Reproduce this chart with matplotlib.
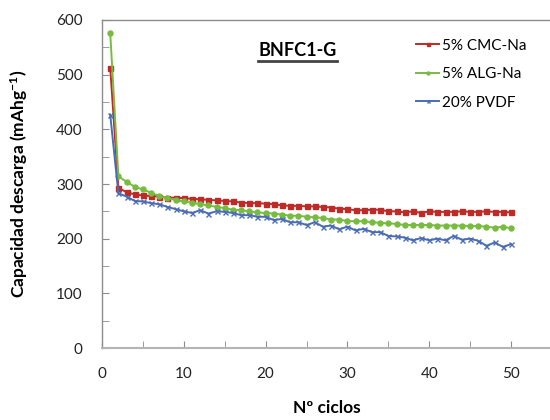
import numpy as np
import matplotlib
matplotlib.use('Agg')
import matplotlib.pyplot as plt
from matplotlib.lines import Line2D

plt.rcParams['font.family'] = ['Lato', 'DejaVu Sans']
plt.rcParams['mathtext.fontset'] = 'custom'
plt.rcParams['mathtext.rm'] = 'Lato:bold'
plt.rcParams['mathtext.default'] = 'rm'

# discharge capacity (mAh/g) per cycle for each binder
ciclos = list(range(1, 51))
cmc_na = [513, 293, 285, 281, 279, 278, 277, 275, 275, 274,
          273, 272, 271, 270, 269, 268, 266, 265, 265, 264,
          263, 261, 260, 260, 259, 259, 258, 257, 255, 254,
          252, 252, 253, 253, 250, 250, 248, 250, 247, 250,
          249, 249, 249, 250, 249, 249, 250, 249, 249, 248]
alg_na = [577, 314, 304, 295, 290, 284, 278, 274, 271, 268,
          266, 263, 261, 258, 256, 253, 252, 250, 248, 247,
          246, 244, 242, 242, 240, 239, 238, 235, 235, 232,
          232, 232, 230, 229, 228, 227, 225, 225, 225, 225,
          224, 224, 224, 224, 223, 223, 222, 220, 222, 219]
pvdf = [427, 283, 277, 269, 268, 265, 263, 258, 254, 250,
        247, 252, 246, 250, 249, 247, 243, 243, 240, 240,
        234, 236, 230, 230, 225, 230, 222, 224, 217, 222,
        215, 218, 212, 212, 205, 204, 202, 197, 201, 197,
        200, 197, 205, 198, 200, 196, 187, 193, 185, 190]

series = [
    ('5% CMC-Na', cmc_na, '#BE2B26', 's', 3.6),
    ('5% ALG-Na', alg_na, '#77BC3F', 'o', 3.6),
    ('20% PVDF', pvdf, '#4A6CB5', 'x', 3.6),
]

fig = plt.figure(figsize=(5.5, 4.2), dpi=100)
ax = fig.add_axes([0.1855, 0.1714, 0.818, 0.781])

for label, vals, color, mk, ms in series:
    ax.plot(ciclos, vals, color=color, lw=1.4, marker=mk, ms=ms,
            mew=1.0, label=label)

ax.set_xlim(0, 55)
ax.set_ylim(0, 600)
ax.set_xticks(np.arange(0, 51, 10))
ax.set_xticks(np.arange(0, 55, 5), minor=True)
ax.set_yticks(np.arange(0, 601, 100))
ax.set_yticks(np.arange(0, 601, 50), minor=True)

for s in ['left', 'top', 'right']:
    ax.spines[s].set_color('#8C8C8C')
    ax.spines[s].set_linewidth(1.0)
ax.spines['bottom'].set_color('#B4B4B4')
ax.spines['bottom'].set_linewidth(1.5)

ax.tick_params(which='both', direction='in', color='#8C8C8C', length=5,
               labelsize=11, labelcolor='#222222')
ax.tick_params(axis='x', which='both', pad=14)
ax.tick_params(axis='y', which='both', pad=14)

ax.set_xlabel('Nº ciclos', fontsize=12.5, fontweight='bold', labelpad=13)
ax.set_ylabel('Capacidad descarga (mAhg$^{-1}$)', fontsize=12.5,
              fontweight='bold', labelpad=19)

title = ax.text(23.9, 545, 'BNFC1-G', fontsize=13, fontweight='bold',
                ha='center', va='center')

leg = ax.legend(loc='upper right', bbox_to_anchor=(0.975, 0.985), frameon=False,
                fontsize=11, handlelength=1.5, handletextpad=0.2,
                labelspacing=0.95, markerscale=0.6)

# underline the sample name
fig.canvas.draw()
bb = title.get_window_extent().transformed(fig.transFigure.inverted())
fig.add_artist(Line2D([bb.x0, bb.x1], [bb.y0 - 0.006, bb.y0 - 0.006],
                      transform=fig.transFigure, color='#444444', lw=2.0))

fig.savefig('out.png', dpi=100)
